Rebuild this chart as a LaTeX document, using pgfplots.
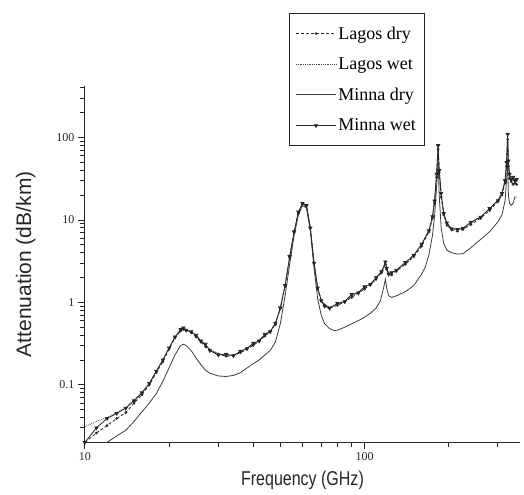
\documentclass[border=0pt]{standalone}
\usepackage{pgfplots}
\pgfplotsset{compat=1.18}
\usepackage{pgfplotstable}
\usepackage{fontspec}
\setmainfont{Liberation Serif}
\newfontfamily\arial{Liberation Sans}
\usepackage{graphicx}
\definecolor{ink}{HTML}{262626}

% Lagos wet
\pgfplotstableread{
f a
10 0.031
11 0.036
12 0.040
13 0.046
14 0.053
15 0.066
16 0.080
17 0.105
18 0.145
19 0.20
20 0.28
21 0.38
22 0.46
22.5 0.48
23 0.47
24 0.44
25 0.39
26 0.34
27 0.30
28 0.27
30 0.24
32 0.226
34 0.23
36 0.25
38 0.28
40 0.31
42 0.35
44 0.40
46 0.45
48 0.55
50 0.85
52 1.6
54 3.5
56 7
58 12
60 16
62 15
64 8
66 3
68 1.5
70 1.1
72 0.95
75 0.88
80 0.95
85 1.05
90 1.2
95 1.35
100 1.5
105 1.7
110 1.95
115 2.4
118.75 3.0
120 2.6
122 2.3
125 2.25
130 2.5
140 3.0
150 3.8
160 5.0
170 7.5
175 11
178 17
181 35
183.3 78
185 40
188 20
192 12
197 9
205 8
215 7.6
225 8
240 9.2
260 11
280 13.5
300 17.5
310 21
318 30
322 50
325 110
327 50
330 35
335 32
340 30
345 31
350 30
}\lagoswet

% Lagos dry
\pgfplotstableread{
f a
10 0.020
11 0.026
12 0.032
13 0.039
14 0.046
15 0.060
16 0.076
17 0.100
18 0.140
19 0.19
20 0.27
21 0.37
22 0.45
22.5 0.47
23 0.46
24 0.43
25 0.38
26 0.33
27 0.29
28 0.265
30 0.235
32 0.222
34 0.226
36 0.245
38 0.27
40 0.30
42 0.34
44 0.39
46 0.44
48 0.54
50 0.84
52 1.6
54 3.5
56 7
58 12
60 15.5
62 14.8
64 8
66 3
68 1.45
70 1.05
72 0.92
75 0.85
80 0.92
85 1.02
90 1.15
95 1.3
100 1.45
105 1.65
110 1.9
115 2.3
118.75 2.9
120 2.5
122 2.2
125 2.15
130 2.4
140 2.9
150 3.6
160 4.8
170 7.2
175 10.5
178 16
181 33
183.3 72
185 38
188 19
192 11.5
197 8.6
205 7.6
215 7.3
225 7.7
240 8.8
260 10.5
280 13
300 16.8
310 20
318 28
322 45
325 95
327 45
330 32
335 29
340 27
345 28
350 27
}\lagosdry

% Minna dry
\pgfplotstableread{
f a
10 0.013
11 0.016
12 0.020
13 0.024
14 0.028
15 0.036
16 0.047
17 0.060
18 0.078
19 0.11
20 0.16
21 0.23
22 0.30
22.5 0.31
23 0.30
24 0.26
25 0.21
26 0.175
27 0.15
28 0.138
30 0.128
32 0.126
34 0.13
36 0.14
38 0.16
40 0.18
42 0.20
44 0.23
46 0.26
48 0.33
50 0.55
52 1.2
54 2.9
56 6.5
58 11.5
60 15
62 14
64 7.5
66 2.6
68 1.1
70 0.7
72 0.55
75 0.48
78 0.455
80 0.46
85 0.5
90 0.55
95 0.6
100 0.66
105 0.74
110 0.85
114 1.05
117 1.5
118.75 1.9
120 1.5
122 1.2
125 1.15
130 1.2
140 1.35
150 1.6
160 2.2
165 2.7
170 3.8
175 6.5
178 11
181 25
183.3 50
185 20
188 8
192 5.2
197 4.3
205 4.0
215 3.85
225 3.9
240 4.6
260 5.8
280 7.2
300 9.5
310 11.5
318 17
322 30
325 50
327 20
330 16
335 15
340 16
345 19
350 19
}\minnadry

% Minna wet
\pgfplotstableread{
f a
10 0.020
11 0.030
12 0.039
13 0.045
14 0.052
15 0.064
16 0.080
17 0.104
18 0.146
19 0.20
20 0.28
21 0.38
22 0.47
22.5 0.49
23 0.46
24 0.44
25 0.40
26 0.34
27 0.31
28 0.26
30 0.23
32 0.235
34 0.225
36 0.255
38 0.275
40 0.32
42 0.34
44 0.41
46 0.44
48 0.56
50 0.86
52 1.6
54 3.6
56 7.2
58 12.5
60 16
62 15
64 8
66 3
68 1.5
70 1.05
72 0.9
75 0.85
80 0.97
85 1.02
90 1.25
95 1.3
100 1.55
105 1.65
110 2.0
115 2.35
118.75 3.1
120 2.6
122 2.2
125 2.3
130 2.45
140 3.05
150 3.7
160 5.1
170 7.4
175 11
178 17
181 36
183.3 80
185 40
188 21
192 12
197 9.2
205 7.8
215 7.7
225 7.9
240 9.4
260 10.8
280 13.8
300 17.2
310 21
318 30
322 50
325 110
327 52
330 36
335 31
340 33
345 30
350 31
}\minnawet

\begin{document}
\begin{tikzpicture}
\begin{axis}[
  scale only axis,
  width=435pt, height=356pt,
  xmode=log, ymode=log,
  xmin=10, xmax=360,
  ymin=0.02, ymax=420,
  axis x line*=bottom, axis y line*=left,
  axis line style={ink, line width=0.8pt},
  tick align=outside,
  major tick length=7pt,
  minor tick length=5pt,
  every tick/.style={ink, line width=0.9pt},
  every minor tick/.style={ink, line width=0.9pt},
  xtick={10,100}, xticklabels={10,100},
  ytick={0.1,1,10,100}, yticklabels={0.1,1,10,100},
  xminorticks=true, yminorticks=true,
  minor xtick={20,30,40,50,60,70,80,90,200,300},
  minor ytick={0.03,0.04,0.05,0.06,0.07,0.08,0.09,
    0.2,0.3,0.4,0.5,0.6,0.7,0.8,0.9,
    2,3,4,5,6,7,8,9,20,30,40,50,60,70,80,90,200,300,400},
  /pgf/number format/assume math mode=true,
  tick label style={font=\fontsize{12}{14}\selectfont, ink},
  xlabel={\arial\scalebox{0.8}[1]{Frequency (GHz)}},
  ylabel={\arial Attenuation (dB/km)},
  xlabel style={font=\fontsize{20}{22}\selectfont, ink,
    at={(rel axis cs:0.5,-0.107)}, anchor=center},
  ylabel style={font=\fontsize{21}{23}\selectfont, ink,
    at={(rel axis cs:-0.136,0.5)}, anchor=center},
  legend style={at={(rel axis cs:0.78,1.205)}, anchor=north east,
    draw=ink, line width=0.7pt, font=\fontsize{18}{20}\selectfont,
    row sep=13pt, inner xsep=6pt, inner ysep=11pt},
  legend cell align=left,
  legend image code/.code={\draw[mark repeat=2,mark phase=2,#1]
    plot coordinates {(0pt,0pt) (20pt,0pt) (40pt,0pt)};},
  every axis plot/.append style={line width=0.8pt},
]
\addplot[ink, densely dashed, mark=*, mark size=0.9pt, mark options={solid}] table[x=f,y=a] {\lagosdry};
\addplot[ink!85, densely dotted] table[x=f,y=a] {\lagoswet};
\addplot[ink!90] table[x=f,y=a] {\minnadry};
\addplot[ink, mark=triangle*, mark size=1.8pt, mark options={solid, rotate=180}] table[x=f,y=a] {\minnawet};
\legend{Lagos dry, Lagos wet, Minna dry, Minna wet}
\coordinate (bl) at (rel axis cs:-0.195,-0.146);
\coordinate (tr) at (rel axis cs:1.009,1.242);
\end{axis}
\path (bl) rectangle (tr);
\end{tikzpicture}
\end{document}
